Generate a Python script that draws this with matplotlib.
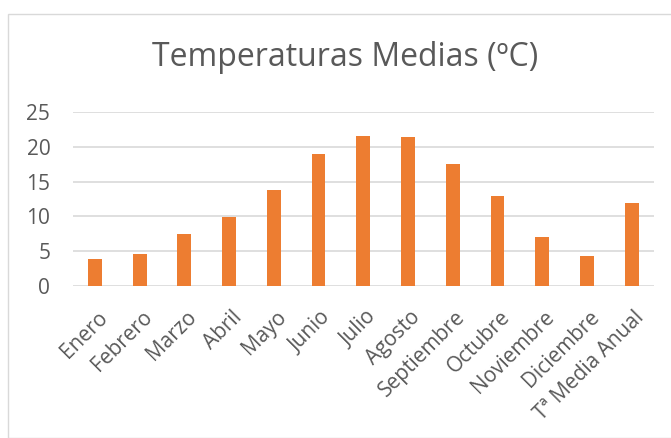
import matplotlib
matplotlib.use('Agg')
import matplotlib.pyplot as plt
from matplotlib.patches import Rectangle
from matplotlib.transforms import ScaledTranslation

meses = ['Enero', 'Febrero', 'Marzo', 'Abril', 'Mayo', 'Junio', 'Julio',
         'Agosto', 'Septiembre', 'Octubre', 'Noviembre', 'Diciembre',
         'Tª Media Anual']
temperaturas = [3.9, 4.6, 7.4, 9.9, 13.8, 19.0, 21.5, 21.4, 17.5, 13.0, 7.0, 4.3, 11.9]
ticks_y = [0, 5, 10, 15, 20, 25]

plt.rcParams['font.family'] = ['Open Sans', 'DejaVu Sans']

fig = plt.figure(figsize=(6.71, 4.38), dpi=100)
ax = fig.add_axes([72.5 / 671, 1 - 286 / 438, (654 - 72.5) / 671, (286 - 112) / 438])

# borde gris del grafico
fig.patches.append(Rectangle((8 / 671, 0), 1, 1 - 14 / 438, transform=fig.transFigure,
                             fill=False, edgecolor='#d9d9d9', linewidth=1))

x = range(len(meses))
ax.bar(x, temperaturas, width=0.31, color='#ed7d31', zorder=3)

ax.set_ylim(0, 25)
ax.set_xlim(-0.5, len(meses) - 0.5)
ax.set_yticks(ticks_y)
ax.yaxis.grid(True, color='#d9d9d9', linewidth=1.2, zorder=0)
for s in ax.spines.values():
    s.set_visible(False)
ax.tick_params(axis='both', length=0, colors='#595959', labelsize=15)
ax.tick_params(axis='y', pad=16)
ax.set_xticks(list(x))
ax.set_xticklabels(meses, rotation=45, ha='right', va='top', rotation_mode='anchor')
ax.tick_params(axis='x', pad=15)
desplaza = ScaledTranslation(2 / 100, 0, fig.dpi_scale_trans)
for lab in ax.get_xticklabels():
    lab.set_transform(lab.get_transform() + desplaza)

fig.text(345 / 671, 1 - 58 / 438, 'Temperaturas Medias (ºC)', ha='center', va='center',
         fontsize=23, color='#595959')

fig.savefig('out.png', dpi=100)
